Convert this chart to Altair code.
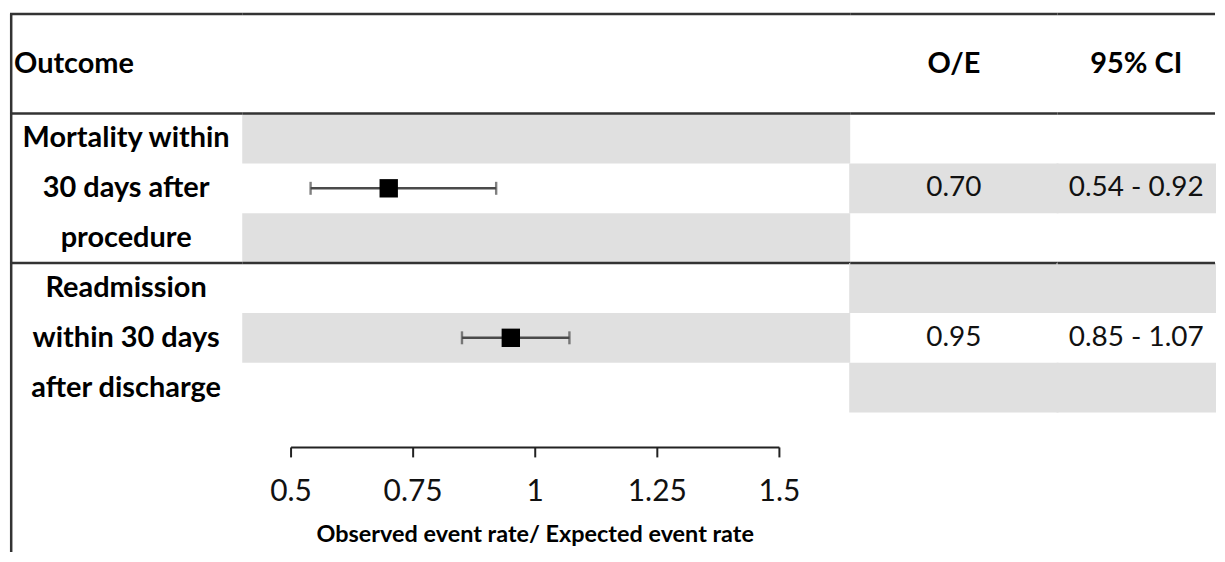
import altair as alt
import pandas as pd

# ---------------- data ----------------
outcome_lines = [["Mortality within", "30 days after", "procedure"],
                 ["Readmission", "within 30 days", "after discharge"]]
oe_values = [0.70, 0.95]
ci_low = [0.54, 0.85]
ci_high = [0.92, 1.07]
oe_text = ["0.70", "0.95"]
ci_text = ["0.54 - 0.92", "0.85 - 1.07"]
tick_values = [0.5, 0.75, 1.0, 1.25, 1.5]
tick_labels = ["0.5", "0.75", "1", "1.25", "1.5"]
header_outcome = "Outcome"
header_oe = "O/E"
header_ci = "95% CI"
axis_title = "Observed event rate/ Expected event rate"

# ---------------- layout ----------------
FONT = "Lato"
HEADER_ROWS = 2
ROWS_PER = 3
Y_MAX = 10.8
H = 540
W_A, W_B, W_C, W_D = 233, 610, 208, 158
X_DOMAIN = [0.4, 1.645]
GRAY = "#e0e0e0"
LINE = "#333333"
AXIS_Y = 8.7
TICK_Y2 = 8.9
TICKLABEL_Y = 9.6
TITLE_Y = 10.45
BOLD_SIZE = 29
VALUE_SIZE = 28

yscale = alt.Scale(domain=[0, Y_MAX], reverse=True, nice=False, zero=False)
xscale = alt.Scale(domain=X_DOMAIN, nice=False, zero=False)

n = len(outcome_lines)
rows = []
for r in range(n * ROWS_PER):
    rows.append({"y0": HEADER_ROWS + r, "y1": HEADER_ROWS + r + 1,
                 "forest_gray": r % 2 == 0, "table_gray": r % 2 == 1})
rows_df = pd.DataFrame(rows)

hlines_df = pd.DataFrame({"y": [0, HEADER_ROWS] +
                          [HEADER_ROWS + ROWS_PER * (i + 1) for i in range(n - 1)]})

labels = []
for i, lines in enumerate(outcome_lines):
    for j, t in enumerate(lines):
        labels.append({"text": t, "y": HEADER_ROWS + ROWS_PER * i + j + 0.5})
labels_df = pd.DataFrame(labels)

res_df = pd.DataFrame({
    "oe": oe_values, "lo": ci_low, "hi": ci_high,
    "oe_text": oe_text, "ci_text": ci_text,
    "y": [HEADER_ROWS + ROWS_PER * i + 1.5 for i in range(n)],
})

head_df = pd.DataFrame({"y": [HEADER_ROWS / 2]})
border_df = pd.DataFrame({"y": [0], "y2": [Y_MAX]})
ticks_df = pd.DataFrame({"v": tick_values, "lab": tick_labels,
                         "y": AXIS_Y, "y2": TICK_Y2, "ly": TICKLABEL_Y})
axis_df = pd.DataFrame({"x": [min(tick_values)], "x2": [max(tick_values)],
                        "y": [AXIS_Y], "ty": [TITLE_Y],
                        "xm": [(min(tick_values) + max(tick_values)) / 2],
                        "t": [axis_title]})

Y = lambda f: alt.Y(f, scale=yscale, axis=None)


def hlines(w):
    return alt.Chart(hlines_df).mark_rule(color=LINE, strokeWidth=2.5).encode(
        y=Y("y:Q"))


def bands(w, flag, x0=0, extra=0):
    return alt.Chart(rows_df).transform_filter(f"datum.{flag}").mark_rect(
        color=GRAY).encode(x=alt.value(x0), x2=alt.value(w + extra),
                           y=Y("y0:Q"), y2="y1:Q")


# ---- panel A: labels ----
border = alt.Chart(border_df).mark_rule(color=LINE, strokeWidth=2.5).encode(
    x=alt.value(1.2), y=Y("y:Q"), y2="y2:Q")
outcome_head = alt.Chart(head_df).mark_text(
    align="left", baseline="middle", font=FONT, fontSize=BOLD_SIZE, fontWeight="bold",
    color="black").encode(x=alt.value(4), y=Y("y:Q"), text=alt.value(header_outcome))
label_text = alt.Chart(labels_df).mark_text(
    align="center", baseline="middle", font=FONT, fontSize=BOLD_SIZE, fontWeight="bold",
    color="black").encode(x=alt.value(W_A / 2), y=Y("y:Q"), text="text:N")
panel_a = alt.layer(hlines(W_A), border, outcome_head, label_text).properties(
    width=W_A, height=H)

# ---- panel B: forest ----
err = alt.Chart(res_df).mark_rule(color="#4a4a4a", strokeWidth=2.4).encode(
    x=alt.X("lo:Q", scale=xscale, axis=None), x2="hi:Q", y=Y("y:Q"))
caps = alt.Chart(res_df).transform_fold(["lo", "hi"], as_=["k", "v"]).mark_tick(
    orient="vertical", size=13, thickness=2.4, color="#4a4a4a").encode(
    x=alt.X("v:Q", scale=xscale, axis=None), y=Y("y:Q"))
pts = alt.Chart(res_df).mark_square(size=340, filled=True, color="black",
                                    opacity=1).encode(
    x=alt.X("oe:Q", scale=xscale, axis=None), y=Y("y:Q"))
axis_line = alt.Chart(axis_df).mark_rule(color="#222222", strokeWidth=2).encode(
    x=alt.X("x:Q", scale=xscale, axis=None), x2="x2:Q", y=Y("y:Q"))
axis_ticks = alt.Chart(ticks_df).mark_rule(color="#222222", strokeWidth=2).encode(
    x=alt.X("v:Q", scale=xscale, axis=None), y=Y("y:Q"), y2="y2:Q")
axis_labels = alt.Chart(ticks_df).mark_text(
    align="center", baseline="middle", font=FONT, fontSize=30, color="#111111").encode(
    x=alt.X("v:Q", scale=xscale, axis=None), y=Y("ly:Q"), text="lab:N")
axis_ttl = alt.Chart(axis_df).mark_text(
    align="center", baseline="middle", font=FONT, fontSize=23.5, fontWeight="bold",
    color="black").encode(
    x=alt.X("xm:Q", scale=xscale, axis=None), y=Y("ty:Q"), text="t:N")
panel_b = alt.layer(bands(W_B, "forest_gray"), hlines(W_B), err, caps, pts,
                    axis_line, axis_ticks, axis_labels, axis_ttl).properties(
    width=W_B, height=H)


# ---- panels C / D: table ----
def table_panel(w, head, field):
    h = alt.Chart(head_df).mark_text(
        align="center", baseline="middle", font=FONT, fontSize=BOLD_SIZE,
        fontWeight="bold", color="black").encode(
        x=alt.value(w / 2), y=Y("y:Q"), text=alt.value(head))
    v = alt.Chart(res_df).mark_text(
        align="center", baseline="middle", font=FONT, fontSize=VALUE_SIZE,
        color="#111111").encode(x=alt.value(w / 2), y=Y("y:Q"), text=f"{field}:N")
    return alt.layer(bands(w, "table_gray", x0=-1, extra=1), hlines(w), h, v).properties(
        width=w, height=H)


panel_c = table_panel(W_C, header_oe, "oe_text")
panel_d = table_panel(W_D, header_ci, "ci_text")

chart = alt.hconcat(panel_a, panel_b, panel_c, panel_d, spacing=0,
                    bounds="flush").properties(
    padding={"left": 0, "top": 3, "right": 0, "bottom": 0},
    background="white",
).configure_view(stroke=None)

chart.save("out.html", embed_options={"renderer": "svg", "actions": False})
